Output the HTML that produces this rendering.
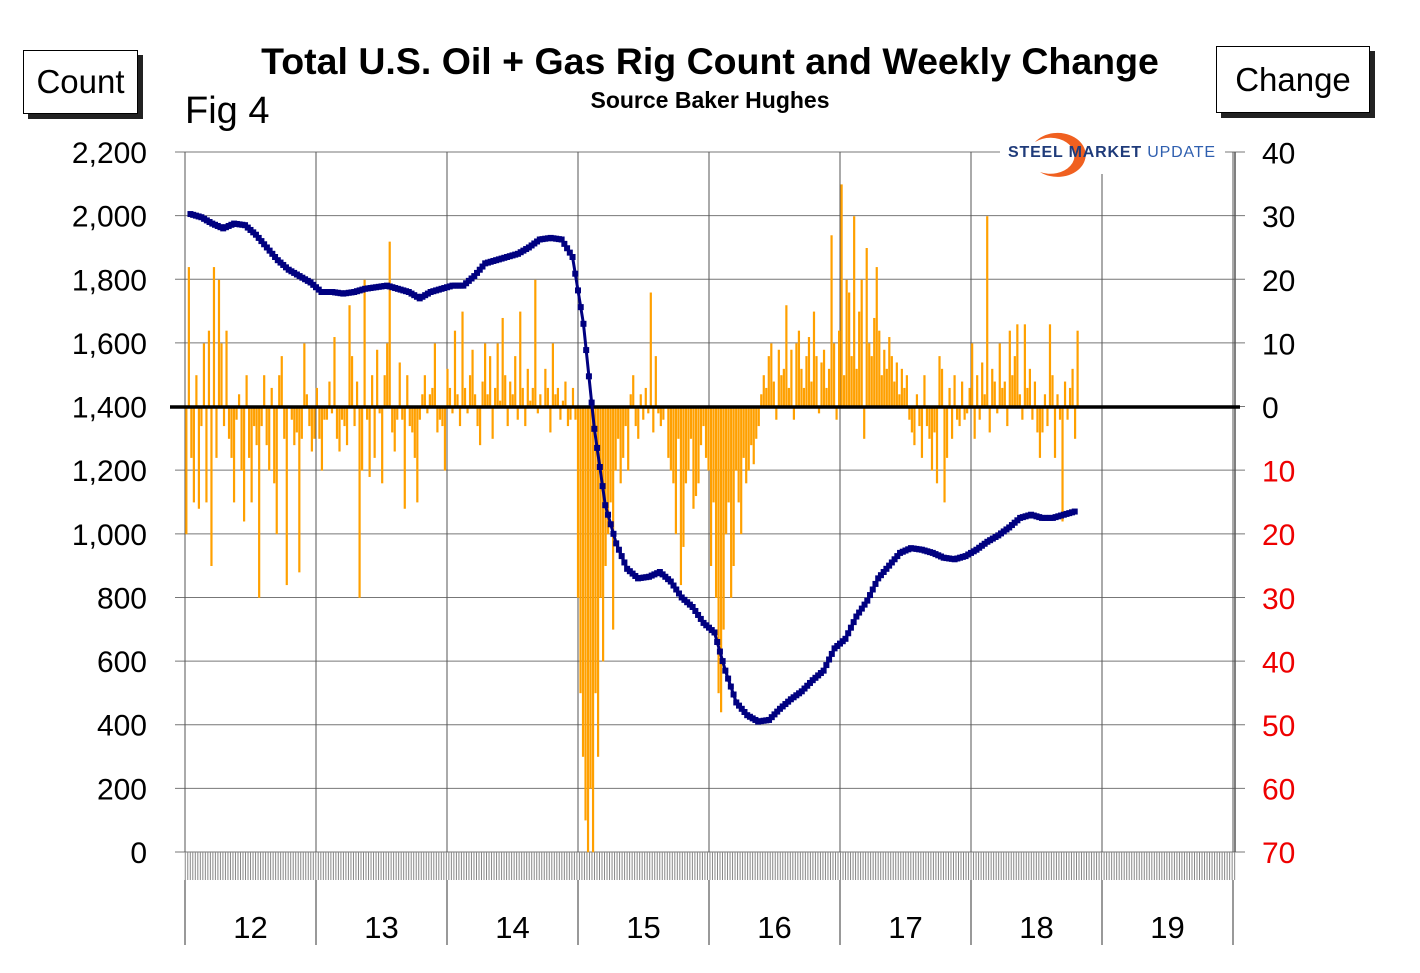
<!DOCTYPE html>
<html><head><meta charset="utf-8"><style>
body{margin:0;background:#fff;font-family:"Liberation Sans",Arial,sans-serif}
#wrap{position:relative;width:1420px;height:973px;overflow:hidden}
.box{position:absolute;border:1.5px solid #000;box-shadow:5px 5px 0 #222;background:#fff;font-size:33px;display:flex;align-items:center;justify-content:center}
</style></head><body><div id="wrap">
<div class="box" style="left:23px;top:50px;width:113px;height:62px">Count</div>
<div class="box" style="left:1216px;top:46px;width:152px;height:65px">Change</div>
<div style="position:absolute;left:0;width:1420px;top:40px;text-align:center;font-weight:bold;font-size:37.5px">Total U.S. Oil + Gas Rig Count and Weekly Change</div>
<div style="position:absolute;left:0;width:1420px;top:87px;text-align:center;font-weight:bold;font-size:23px">Source Baker Hughes</div>
<div style="position:absolute;left:185px;top:90px;font-size:38px">Fig 4</div>
<svg id="svg" width="1420" height="973" style="position:absolute;left:0;top:0"></svg>
</div>
<script>
const countVals=[2005,1995,1975,1960,1975,1970,1940,1900,1860,1830,1810,1790,
1760,1760,1755,1760,1770,1775,1780,1770,1760,1740,1760,1770,
1780,1780,1810,1850,1860,1870,1880,1900,1925,1930,1925,1870,
1660,1330,1090,970,890,860,865,880,850,800,770,720,
690,570,470,430,410,415,450,480,505,540,570,640,
670,740,790,860,900,940,955,950,940,925,920,930,
950,975,995,1020,1050,1060,1050,1050,1060,1070];
const changeVals=[
-20,22,-8,-15,5,-16,-3,10,-15,12,-25,22,-8,20,10,-3,12,-5,-8,-15,-2,2,-10,-18,5,-8,-15,-3,-6,-30,-3,5,-6,-10,3,-12,-20,5,8,-5,-28,0,-2,-6,-4,-26,-5,10,2,-3,-7,-5,
3,-5,-10,-2,-2,4,-1,11,-5,-7,-2,-3,-6,16,8,-3,4,-30,-10,20,-2,-11,5,-8,9,-1,-12,5,10,26,-4,-7,-2,7,-2,-16,5,-3,-4,-8,-15,-2,2,5,-1,2,3,10,-4,-2,-3,-10,
6,3,-1,12,2,-3,15,3,-1,5,9,2,-3,-6,4,10,2,8,-5,3,10,1,14,5,-3,4,2,8,-2,15,3,-3,6,1,3,20,-1,2,0,6,3,-4,10,2,3,-2,1,4,-3,-2,3,-2,
-30,-45,-55,-65,-70,-60,-70,-45,-55,-30,-40,-25,-20,-15,-35,-10,-5,-12,-8,-3,-10,2,5,-3,-5,2,-2,3,-1,18,-4,8,-1,-3,-2,0,-8,-10,-12,-20,-5,-28,-22,-12,-10,-5,-16,-14,-12,-6,-3,-8,
-10,-25,-15,-30,-45,-48,-35,-20,-15,-30,-25,-10,-15,-20,-8,-12,-10,-6,-9,-5,-3,2,5,3,8,10,4,-2,9,5,6,16,3,9,-2,10,12,6,3,8,11,4,15,8,-1,7,9,3,6,27,10,-2,
12,35,5,20,18,8,30,6,15,20,-5,25,10,8,14,22,12,5,9,6,11,8,4,7,2,6,3,5,-2,-4,-6,2,-3,-8,5,-3,-5,-10,-4,-12,8,6,-15,-8,3,-5,5,-2,-3,4,-2,-1,
3,10,-5,5,-2,7,2,30,-4,6,4,-1,10,3,4,-3,12,5,8,13,2,-2,13,3,6,-2,4,-4,-8,-4,2,-3,13,5,-8,2,-2,-18,4,-2,3,6,-5,12];
const leftTicks=[0,200,400,600,800,1000,1200,1400,1600,1800,2000,2200];
const rightTicks=[40,30,20,10,0,-10,-20,-30,-40,-50,-60,-70];
const yearLabels=["12","13","14","15","16","17","18","19"];
const X0=185,YW=131,TOP=152,BOT=852;
const yL=v=>BOT-(v/2200)*(BOT-TOP);
const yR=v=>407-v*6.36;
const xMonth=m=>X0+(m+0.5)*YW/12;
const xWeek=w=>X0+(w+0.5)*YW/52.18;
const svg=document.getElementById('svg');const NS="http://www.w3.org/2000/svg";
function mk(t,a,p){const e=document.createElementNS(NS,t);for(const k in a)e.setAttribute(k,a[k]);(p||svg).appendChild(e);return e;}
leftTicks.forEach(v=>{const l=mk('line',{x1:175,x2:1245,y1:yL(v),y2:yL(v),stroke:'#777','stroke-width':1});


const t=mk('text',{x:147,y:yL(v)+11,'text-anchor':'end','font-size':30,'font-family':'Liberation Sans'});t.textContent=v.toLocaleString('en-US');

});
rightTicks.forEach(v=>{const t=mk('text',{x:1262,y:yR(v)+11,'font-size':30,'font-family':'Liberation Sans',fill:v<0?'#e00':'#000'});t.textContent=Math.abs(v);

});
for(let i=0;i<=8;i++){const x=X0+i*YW;const l=mk('line',{x1:x,x2:x,y1:TOP,y2:BOT,stroke:'#555','stroke-width':1});


mk('line',{x1:x,x2:x,y1:880,y2:945,stroke:'#555','stroke-width':1.2});}
mk('line',{x1:1235,x2:1235,y1:TOP,y2:BOT,stroke:'#555','stroke-width':1.5});
for(let w=0;w<=418;w++){const x=xWeek(w)-1;mk('line',{x1:x,x2:x,y1:BOT,y2:880,stroke:'#888','stroke-width':1});}
yearLabels.forEach((s,i)=>{const t=mk('text',{x:X0+(i+0.5)*YW,y:938,'text-anchor':'middle','font-size':31,'font-family':'Liberation Sans'});t.textContent=s;

});
changeVals.forEach((v,i)=>{const x=xWeek(i);const y0=yR(0),y1=yR(v);
const r=mk('rect',{x:x-1,y:Math.min(y0,y1),width:2.2,height:Math.abs(y1-y0),fill:'#FFA000'});

});
mk('line',{x1:170,x2:1240,y1:407,y2:407,stroke:'#000','stroke-width':3.5});
const pts=countVals.map((v,i)=>xMonth(i)+','+yL(v)).join(' ');
const pl=mk('polyline',{points:pts,fill:'none',stroke:'#000080','stroke-width':3});


countVals.forEach((v,i)=>{for(let k=0;k<4;k++){const j=i+k*0.25;if(j>countVals.length-1)continue;
const a=countVals[Math.floor(j)],b=countVals[Math.min(Math.floor(j)+1,countVals.length-1)];const vv=a+(b-a)*k*0.25;
const r=mk('rect',{x:xMonth(j)-3,y:yL(vv)-3,width:6,height:6,fill:'#000080'});

}});
const g=mk('g',{});
mk('rect',{x:1000,y:126,width:225,height:48,fill:'#fff'},g);
mk('path',{d:'M1035,142 A28,22 0 1 1 1040,172 A24,18 0 1 0 1035,142 Z',fill:'#F06020'},g);
const lt=mk('text',{x:1008,y:157,'font-size':16,'font-family':'Liberation Sans','font-weight':'bold',fill:'#1F3B7A',textLength:207},g);
lt.innerHTML='STEEL MARKET <tspan font-weight="normal" fill="#2F5FAF">UPDATE</tspan>';
</script></body></html>
